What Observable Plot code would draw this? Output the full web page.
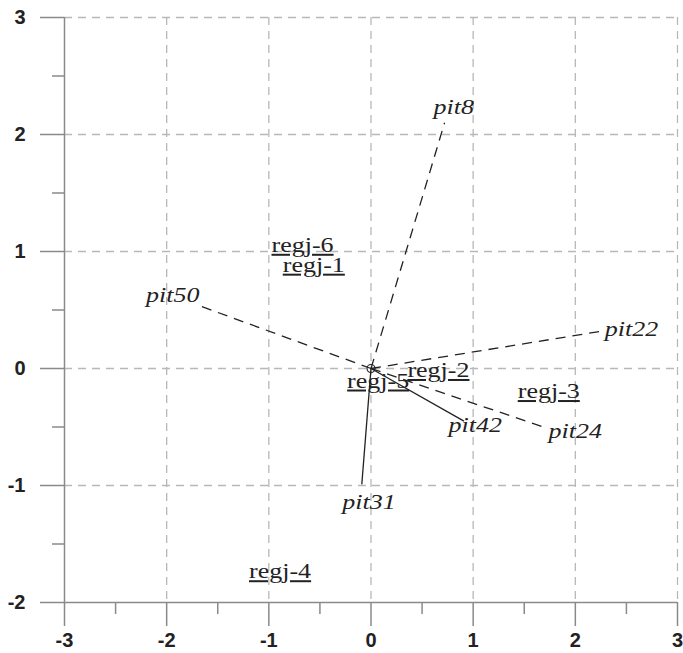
<!DOCTYPE html>
<html>
<head>
<meta charset="utf-8">
<script src="https://cdn.jsdelivr.net/npm/d3@7"></script>
<script src="https://cdn.jsdelivr.net/npm/@observablehq/plot@0.6"></script>
<style>
  html, body { margin: 0; padding: 0; background: #fff; }
  g[aria-description="regj labels"] text { text-decoration: underline; }
</style>
</head>
<body>
<div id="chart"></div>
<script>
// Vector (arrow) data
const vecNames  = ["pit8", "pit50", "pit22", "pit24", "pit42", "pit31"];
const vecX      = [0.72, -1.69, 2.30, 1.72, 0.91, -0.09];
const vecY      = [2.10, 0.54, 0.325, -0.51, -0.45, -0.99];
const vecDashed = [true, true, true, true, false, false];
const vecLabelX = [0.81, -1.94, 2.55, 2.00, 1.02, -0.02];
const vecLabelY = [2.23, 0.62, 0.33, -0.54, -0.49, -1.15];

// Region (point) labels
const regNames = ["regj-6", "regj-1", "regj-2", "regj-5", "regj-3", "regj-4"];
const regX     = [-0.67, -0.56, 0.66, 0.07, 1.74, -0.89];
const regY     = [1.05, 0.88, -0.02, -0.11, -0.20, -1.74];

// Ticks
const xMajor = [-3, -2, -1, 0, 1, 2, 3];
const yMajor = [-2, -1, 0, 1, 2, 3];
const xMinor = [-2.5, -1.5, -0.5, 0.5, 1.5, 2.5];
const yMinor = [-1.5, -0.5, 0.5, 1.5, 2.5];

const vectors = vecNames.map((n, i) => ({name: n, x: vecX[i], y: vecY[i], dashed: vecDashed[i], lx: vecLabelX[i], ly: vecLabelY[i]}));
const regions = regNames.map((n, i) => ({name: n, x: regX[i], y: regY[i]}));

const axisColor = "#8a8a8a";
const gridColor = "#b8b8b8";
const ink = "#222";

const chart = Plot.plot({
  width: 683,
  height: 653,
  marginLeft: 64,
  marginRight: 6,
  marginTop: 17,
  marginBottom: 51,
  style: {background: "#fff"},
  x: {domain: [-3, 3], axis: null},
  y: {domain: [-2, 3], axis: null},
  marks: [
    Plot.gridX(xMajor.filter(d => d !== -3), {stroke: gridColor, strokeOpacity: 1, strokeWidth: 1.3, strokeDasharray: "8,6"}),
    Plot.gridY(yMajor.filter(d => d !== -2), {stroke: gridColor, strokeOpacity: 1, strokeWidth: 1.3, strokeDasharray: "8,6"}),
    Plot.ruleX([-3], {stroke: axisColor, strokeWidth: 1.5}),
    Plot.ruleY([-2], {stroke: axisColor, strokeWidth: 1.5}),
    Plot.axisY(yMajor, {tickSize: 24, tickPadding: 15, stroke: axisColor, strokeWidth: 1.5, fill: ink,
      fontSize: 20, fontWeight: "bold", fontFamily: "Liberation Sans, Arial, sans-serif", tickFormat: d => String(d)}),
    Plot.axisY(yMinor, {tickSize: 12, stroke: axisColor, strokeWidth: 1.5, tickFormat: () => ""}),
    Plot.axisX(xMajor, {tickSize: 24, tickPadding: 6, stroke: axisColor, strokeWidth: 1.5, fill: ink,
      fontSize: 20, fontWeight: "bold", fontFamily: "Liberation Sans, Arial, sans-serif", tickFormat: d => String(d)}),
    Plot.axisX(xMinor, {tickSize: 12, stroke: axisColor, strokeWidth: 1.5, tickFormat: () => ""}),
    Plot.link(vectors.filter(d => d.dashed), {x1: 0, y1: 0, x2: "x", y2: "y", stroke: ink, strokeWidth: 1.3, strokeDasharray: "10,7"}),
    Plot.link(vectors.filter(d => !d.dashed), {x1: 0, y1: 0, x2: "x", y2: "y", stroke: ink, strokeWidth: 1.3}),
    Plot.dot([{x: 0, y: 0}], {x: "x", y: "y", r: 4, stroke: ink, strokeWidth: 1.2, fill: "none"}),
    Plot.text(vectors, {x: "lx", y: "ly", text: "name", fill: ink, fontSize: 20, fontStyle: "italic",
      fontFamily: "Liberation Serif, Times New Roman, serif", ariaDescription: "pit labels"}),
    Plot.text(regions, {x: "x", y: "y", text: "name", fill: ink, fontSize: 20,
      fontFamily: "Liberation Serif, Times New Roman, serif", ariaDescription: "regj labels"})
  ]
});

// Labels in the reference are horizontally stretched
d3.select(chart).selectAll('g[aria-description="pit labels"] text, g[aria-description="regj labels"] text').each(function() {
  const t = this.getAttribute("transform");
  if (t) {
    this.setAttribute("transform", t + " scale(1.3,1)");
  } else {
    const x = this.getAttribute("x") || 0, y = this.getAttribute("y") || 0;
    this.removeAttribute("x"); this.removeAttribute("y");
    this.setAttribute("transform", `translate(${x},${y}) scale(1.3,1)`);
  }
});

document.getElementById("chart").appendChild(chart);
</script>
</body>
</html>
